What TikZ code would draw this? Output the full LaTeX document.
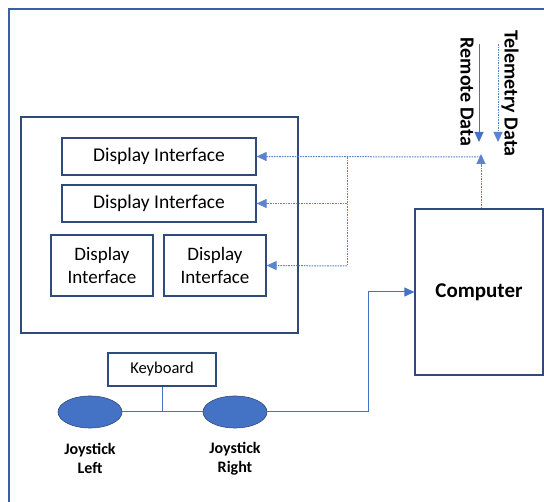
\documentclass[tikz,border=0pt]{standalone}
\usepackage{fontspec}
\setmainfont{Carlito}
\usetikzlibrary{arrows.meta,shapes.geometric}
\definecolor{boxc}{HTML}{2F4B7C}
\definecolor{linec}{HTML}{4472C4}
\definecolor{dotc}{HTML}{5B84CC}
\definecolor{framec}{HTML}{3A5FA8}
\begin{document}
\begin{tikzpicture}[x=1pt,y=-1pt,
  box/.style={draw=boxc,line width=1.2pt,rectangle,inner sep=0pt,anchor=center},
  wire/.style={draw=linec,line width=1pt},
  dotwire/.style={draw=dotc,line width=1pt,dash pattern=on 1.6pt off 1pt},
  tip/.style={-{Triangle[length=10pt,width=9pt]}},
  joy/.style={ellipse,draw=boxc,line width=0.6pt,fill=linec,minimum width=64pt,minimum height=32pt,inner sep=0pt},
  lbl/.style={font=\fontsize{16}{19}\selectfont\bfseries,align=center,text=black}
]
\useasboundingbox (0,0) rectangle (544,502);
\draw[draw=framec,line width=1.3pt] (9,502) -- (9,9) -- (545,9);

\node[box,minimum width=277pt,minimum height=216pt] (cont) at (159.5,225) {};
\node[box,minimum width=194pt,minimum height=37pt,font=\fontsize{19.5}{22}\selectfont] (di1) at (159,156.5) {Display Interface};
\node[box,minimum width=194pt,minimum height=37pt,font=\fontsize{19.5}{22}\selectfont] (di2) at (159,203.5) {Display Interface};
\node[box,minimum width=102pt,minimum height=61pt,align=center,font=\fontsize{19}{23}\selectfont] (di3) at (102,265.5) {Display\\Interface};
\node[box,minimum width=102pt,minimum height=61pt,align=center,font=\fontsize{19}{23}\selectfont] (di4) at (215,265.5) {Display\\Interface};
\node[box,minimum width=128pt,minimum height=166pt,font=\fontsize{21}{24}\selectfont\bfseries] (comp) at (479,292) {Computer};
\node[box,minimum width=108pt,minimum height=33pt,font=\fontsize{16.5}{19}\selectfont] (kbd) at (162,369.5) {Keyboard};

\node[joy] (jl) at (90,412) {};
\node[joy] (jr) at (235,412) {};
\node[lbl] (jll) at (90,458.5) {Joystick\\Left};
\node[lbl] (jrl) at (235,458.5) {Joystick\\Right};

% keyboard / joystick wiring
\coordinate (kj) at (kbd.south |- jl.east);
\draw[wire] (jl.east) -- (jr.west);
\draw[wire] (kbd.south) -- (kj);
\coordinate (bend1) at (368,412);
\coordinate (bend2) at (368,292);
\draw[wire,tip] (jr.east) -- (bend1) -- (bend2) -- (comp.west);

% computer to displays
\coordinate (hub) at (481,157);
\coordinate (vtop) at (347,157);
\coordinate (v2) at (347,203.5);
\coordinate (v4) at (347,266);
\draw[dotwire,tip] (comp.north -| hub) -- ([yshift=3pt]hub);
\draw[dotwire,tip] (hub) -- (di1.east);
\draw[dotwire] (vtop) -- (v4);
\draw[dotwire,tip] (v2) -- (di2.east);
\draw[dotwire,tip] (v4) -- (di4.east);

% incoming data
\coordinate (rs) at (479,44);
\coordinate (re) at (479,142);
\coordinate (ts) at (498,44);
\coordinate (te) at (498,142);
\draw[wire,tip] (rs) -- (re);
\draw[dotwire,tip] (ts) -- (te);
\node[font=\fontsize{20}{24}\selectfont\bfseries,rotate=-90] (rd) at (467,92) {Remote Data};
\node[font=\fontsize{20}{24}\selectfont\bfseries,rotate=-90] (td) at (510,93.5) {Telemetry Data};
\end{tikzpicture}
\end{document}
